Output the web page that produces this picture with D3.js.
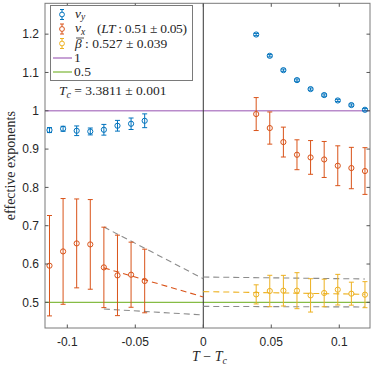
<!DOCTYPE html>
<html><head><meta charset="utf-8">
<script src="https://cdn.jsdelivr.net/npm/d3@7"></script>
<style>body{margin:0;background:#fff}svg{display:block}</style>
</head><body><svg id="c" width="374" height="367"></svg>
<script>
// ---- data ----
const xLeft  = [-0.1131, -0.1031, -0.0931, -0.0831, -0.0731, -0.0631, -0.0531, -0.0431];
const xRight = [0.0389, 0.0489, 0.0589, 0.0689, 0.0789, 0.0889, 0.0989, 0.1089, 0.1189];
const nuYLeft     = [0.9496, 0.953, 0.9478, 0.946, 0.9504, 0.9609, 0.9661, 0.9739];
const nuYLeftErr  = [0.0065, 0.0065, 0.0126, 0.009, 0.014, 0.014, 0.015, 0.018];
const nuYRight    = [1.199, 1.1435, 1.106, 1.080, 1.0566, 1.041, 1.0269, 1.0149, 1.0026];
const nuYRightErr = [0.003, 0.003, 0.003, 0.003, 0.003, 0.003, 0.003, 0.003, 0.003];
const nuXLeft     = [0.5956, 0.6329, 0.6538, 0.6512, 0.5912, 0.5703, 0.5721, 0.5557];
const nuXLeftErr  = [0.131, 0.138, 0.116, 0.117, 0.105, 0.105, 0.085, 0.083];
const nuXRight    = [0.9914, 0.9549, 0.9183, 0.8852, 0.8782, 0.8729, 0.8565, 0.8505, 0.8427];
const nuXRightErr = [0.043, 0.042, 0.039, 0.039, 0.044, 0.047, 0.052, 0.054, 0.061];
const betaRight    = [0.5207, 0.5296, 0.5304, 0.5304, 0.5181, 0.5244, 0.533, 0.5226, 0.520];
const betaRightErr = [0.025, 0.041, 0.040, 0.047, 0.0435, 0.036, 0.040, 0.030, 0.034];
// fit / bound lines: [x0, y0, x1, y1]
const fitNuX   = [-0.0731, 0.590, 0, 0.514];
const ltUpper  = [-0.0731, 0.6966, 0, 0.5617];
const ltLower  = [-0.0731, 0.4826, 0, 0.467];
const fitBeta  = [0, 0.528, 0.1189, 0.521];
const betaUp   = [0, 0.5661, 0.1189, 0.561];
const betaLow  = [0, 0.4894, 0.1189, 0.4879];
const xTicks = [-0.1, -0.05, 0, 0.05, 0.1];
const xTickLabels = ["-0.1", "-0.05", "0", "0.05", "0.1"];
const yTicks = [0.5, 0.6, 0.7, 0.8, 0.9, 1, 1.1, 1.2];
const yTickLabels = ["0.5", "0.6", "0.7", "0.8", "0.9", "1", "1.1", "1.2"];
const refLines = [1, 0.5];

const C = {blue:"#0072BD", orange:"#D95319", yellow:"#EDB120", purple:"#B98BCB", green:"#86BC45", gray:"#8c8c8c", axis:"#262626"};
const svg = d3.select("#c");
const L=45, R=370, T=3.3, B=328;
const x = d3.scaleLinear().domain([-0.1164, 0.1226]).range([L, R]);
const y = d3.scaleLinear().domain([0.433, 1.2805]).range([B, T]);
const serif = "'Liberation Serif', 'Times New Roman', serif";
const sans = "'Liberation Sans', Arial, sans-serif";

// reference lines
svg.append("line").attr("x1",L).attr("x2",R).attr("y1",y(refLines[0])).attr("y2",y(refLines[0])).attr("stroke",C.purple).attr("stroke-width",1.6);
svg.append("line").attr("x1",L).attr("x2",R).attr("y1",y(refLines[1])).attr("y2",y(refLines[1])).attr("stroke",C.green).attr("stroke-width",1.3);
// x=0 vertical
svg.append("line").attr("x1",x(0)).attr("x2",x(0)).attr("y1",T).attr("y2",B).attr("stroke","#333").attr("stroke-width",1);

// dashed lines
function dashed(seg, color){
  svg.append("line").attr("x1",x(seg[0])).attr("y1",y(seg[1])).attr("x2",x(seg[2])).attr("y2",y(seg[3]))
    .attr("stroke",color).attr("stroke-width",1.1).attr("stroke-dasharray","6,4");
}
dashed(ltUpper, C.gray); dashed(ltLower, C.gray); dashed(fitNuX, C.orange);
dashed(betaUp, C.gray); dashed(betaLow, C.gray); dashed(fitBeta, C.yellow);

// error bars
function errbars(xs, ys, es, color){
  const g = svg.append("g");
  xs.forEach((xv,i)=>{
    const cx=x(xv), y0=y(ys[i]-es[i]), y1=y(ys[i]+es[i]);
    g.append("line").attr("x1",cx).attr("x2",cx).attr("y1",y0).attr("y2",y1).attr("stroke",color).attr("stroke-width",1);
    [y0,y1].forEach(yy=>g.append("line").attr("x1",cx-2.5).attr("x2",cx+2.5).attr("y1",yy).attr("y2",yy).attr("stroke",color).attr("stroke-width",1));
    g.append("circle").attr("cx",cx).attr("cy",y(ys[i])).attr("r",2.6).attr("fill","none").attr("stroke",color).attr("stroke-width",1);
  });
}
errbars(xLeft, nuYLeft, nuYLeftErr, C.blue);
errbars(xRight, nuYRight, nuYRightErr, C.blue);
errbars(xLeft, nuXLeft, nuXLeftErr, C.orange);
errbars(xRight, nuXRight, nuXRightErr, C.orange);
errbars(xRight, betaRight, betaRightErr, C.yellow);

// axes frame
svg.append("rect").attr("x",L).attr("y",T).attr("width",R-L).attr("height",B-T).attr("fill","none").attr("stroke","#7a7a7a").attr("stroke-width",1);
const ax = svg.append("g").attr("font-family",sans).attr("font-size",12).attr("fill",C.axis);
xTicks.forEach((t,i)=>{
  const px=x(t);
  svg.append("line").attr("x1",px).attr("x2",px).attr("y1",B).attr("y2",B-3.5).attr("stroke","#555");
  svg.append("line").attr("x1",px).attr("x2",px).attr("y1",T).attr("y2",T+3.5).attr("stroke","#555");
  ax.append("text").attr("x",px).attr("y",B+18).attr("text-anchor","middle").text(xTickLabels[i]);
});
yTicks.forEach((t,i)=>{
  const py=y(t);
  svg.append("line").attr("x1",L).attr("x2",L+3.5).attr("y1",py).attr("y2",py).attr("stroke","#555");
  svg.append("line").attr("x1",R).attr("x2",R-3.5).attr("y1",py).attr("y2",py).attr("stroke","#555");
  ax.append("text").attr("x",L-6).attr("y",py+4.3).attr("text-anchor","end").text(yTickLabels[i]);
});

// axis labels
const xl = svg.append("text").attr("x",(L+R)/2+2).attr("y",361).attr("text-anchor","middle").attr("font-family",serif).attr("font-size",14).attr("fill",C.axis);
xl.append("tspan").attr("font-style","italic").text("T");
xl.append("tspan").text(" − ");
xl.append("tspan").attr("font-style","italic").text("T");
xl.append("tspan").attr("font-style","italic").attr("font-size",10).attr("dy",3).text("c");
svg.append("text").attr("transform",`translate(15,${(T+B)/2}) rotate(-90)`).attr("text-anchor","middle")
  .attr("font-family",serif).attr("font-size",14).attr("fill",C.axis).text("effective exponents");

// legend
svg.append("rect").attr("x",50.5).attr("y",5.5).attr("width",142).attr("height",75).attr("fill","#fff").attr("stroke","#7a7a7a").attr("stroke-width",1);
const rows=[14.5,29,43.5,58,72];
const lg = svg.append("g").attr("font-family",serif).attr("font-size",13.5).attr("fill",C.axis);
[[C.blue],[C.orange],[C.yellow]].forEach((c,i)=>{
  const cy=rows[i], cx=62;
  svg.append("line").attr("x1",cx).attr("x2",cx).attr("y1",cy-5).attr("y2",cy+5).attr("stroke",c[0]);
  [cy-5,cy+5].forEach(yy=>svg.append("line").attr("x1",cx-2).attr("x2",cx+2).attr("y1",yy).attr("y2",yy).attr("stroke",c[0]));
  svg.append("circle").attr("cx",cx).attr("cy",cy).attr("r",2.4).attr("fill","#fff").attr("stroke",c[0]);
});
let t1 = lg.append("text").attr("x",75).attr("y",rows[0]+3);
t1.append("tspan").attr("font-style","italic").text("ν");
t1.append("tspan").attr("font-style","italic").attr("font-size",9.5).attr("dy",2.5).text("y");
let t2 = lg.append("text").attr("x",75).attr("y",rows[1]+3);
t2.append("tspan").attr("font-style","italic").text("ν");
t2.append("tspan").attr("font-style","italic").attr("font-size",9.5).attr("dy",2.5).text("x");
let t2b = lg.append("text").attr("x",97).attr("y",rows[1]+4).attr("textLength",90).attr("lengthAdjust","spacing");
t2b.append("tspan").text("(");
t2b.append("tspan").attr("font-style","italic").text("LT");
t2b.append("tspan").text(" : 0.51 ± 0.05)");
let t3 = lg.append("text").attr("x",75).attr("y",rows[2]+4.5);
t3.append("tspan").attr("font-style","italic").text("β");
t3.append("tspan").text(" : 0.527 ± 0.039");
svg.append("line").attr("x1",76).attr("x2",84).attr("y1",rows[2]-5.5).attr("y2",rows[2]-5.5).attr("stroke",C.axis).attr("stroke-width",0.8);
svg.append("line").attr("x1",53).attr("x2",72).attr("y1",rows[3]).attr("y2",rows[3]).attr("stroke",C.purple).attr("stroke-width",1.6);
lg.append("text").attr("x",74).attr("y",rows[3]+4).text("1");
svg.append("line").attr("x1",53).attr("x2",72).attr("y1",rows[4]).attr("y2",rows[4]).attr("stroke",C.green).attr("stroke-width",1.3);
lg.append("text").attr("x",74).attr("y",rows[4]+4).text("0.5");

// Tc annotation
const tc = svg.append("text").attr("x",59).attr("y",95).attr("font-family",serif).attr("font-size",13.5).attr("fill",C.axis);
tc.append("tspan").attr("font-style","italic").text("T");
tc.append("tspan").attr("font-style","italic").attr("font-size",10).attr("dy",3).text("c");
tc.append("tspan").attr("dy",-3).text(" = 3.3811 ± 0.001");
</script></body></html>
